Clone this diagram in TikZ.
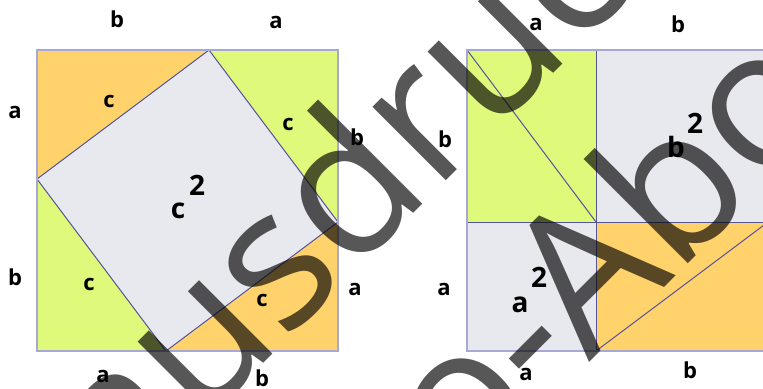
\documentclass[tikz,border=0pt]{standalone}
\usepackage{fontspec}
\setmainfont{Open Sans}
\usetikzlibrary{calc}
\definecolor{triorange}{HTML}{FFD26C}
\definecolor{trigreen}{HTML}{DFF97A}
\definecolor{sqgray}{HTML}{E8E9EE}
\definecolor{edgeblue}{HTML}{55559A}
\definecolor{frameblue}{HTML}{A8A8D4}

\begin{document}
\begin{tikzpicture}[x=0.5pt,y=-0.5pt]
      \tikzset{side/.style={font=\fontsize{11}{12}\selectfont\bfseries,
          anchor=base, inner sep=0pt},
        area/.style={font=\fontsize{14}{15}\selectfont\bfseries,
          anchor=base, inner sep=0pt},
        edge line/.style={draw=edgeblue, line width=0.5pt},
        frame line/.style={draw=frameblue, line width=0.7pt},
        stamp/.style={font=\fontsize{97}{97}\selectfont,
          text=black, text opacity=0.66, rotate=45, inner sep=0pt}
      }
      \clip (0,0) rectangle (763,388);
      % left square: four triangles round c^2
      \coordinate (P1) at (37,50);  \coordinate (P2) at (338,50);
      \coordinate (P3) at (338,351); \coordinate (P4) at (37,351);
      \coordinate (T) at (209,50);  \coordinate (R) at (338,222);
      \coordinate (B) at (166,351); \coordinate (L) at (37,179);
      \fill [triorange] (P1)--(T)--(L)--cycle;
      \fill [trigreen] (T)--(P2)--(R)--cycle;
      \fill [triorange] (R)--(P3)--(B)--cycle;
      \fill [trigreen] (L)--(B)--(P4)--cycle;
      \filldraw [fill=sqgray, edge line] (T)--(R)--(B)--(L)--cycle;
      \draw [frame line] (P1) rectangle (P3);

      % right square: a^2, b^2 and two rectangles
      \coordinate (Q1) at (467,50);  \coordinate (Q3) at (768,351);
      \coordinate (M) at (596,222);
      \coordinate (Mt) at (596,50);  \coordinate (Mb) at (596,351);
      \coordinate (Ml) at (467,222); \coordinate (Mr) at (768,222);
      \fill [trigreen] (Q1) rectangle (M);
      \fill [sqgray] (Mt) rectangle (Mr);
      \fill [sqgray] (Ml) rectangle (Mb);
      \fill [triorange] (M) rectangle (Q3);
      \draw [edge line] (Q1)--(M);
      \draw [edge line] (Mb)--(Mr);
      \draw [edge line] (Mt)--(Mb);
      \draw [edge line] (Ml)--(Mr);
      \draw [frame line] (Q1) rectangle (Q3);

      % side labels, left
      \node [side] (lb1) at (117,27) {b};
      \node [side] (la1) at (276,28) {a};
      \node [side] (la2) at (15,118) {a};
      \node [side] (lb2) at (15,285) {b};
      \node [side] (lb3) at (357,145) {b};
      \node [side] (la3) at (355,295) {a};
      \node [side] (la4) at (103,382) {a};
      \node [side] (lb4) at (262,386) {b};
      \node [side] (lc1) at (109,107) {c};
      \node [side] (lc2) at (288,130) {c};
      \node [side] (lc3) at (89,290) {c};
      \node [side] (lc4) at (262,306) {c};
      \node [area] (csq) at (178,218) {c};
      \node [area] (csqexp) at (197,195) {2};

      % side labels, right
      \node [side] (ra1) at (536,30) {a};
      \node [side] (rb1) at (678,32) {b};
      \node [side] (rb2) at (445,147) {b};
      \node [side] (ra2) at (444,295) {a};
      \node [side] (ra3) at (526,380) {a};
      \node [side] (rb3) at (690,378) {b};
      \node [area] (asq) at (520,312) {a};
      \node [area] (asqexp) at (539,287) {2};
      \node [area] (bsq) at (676,157) {b};
      \node [area] (bsqexp) at (695,133) {2};

      % watermark
      \node [stamp, anchor=base west] (wm1) at (124,503) {ausdruck};
      \node [stamp, anchor=base] (wm2) at (585,367) {Pro-Abo};
    \end{tikzpicture}
\end{document}
